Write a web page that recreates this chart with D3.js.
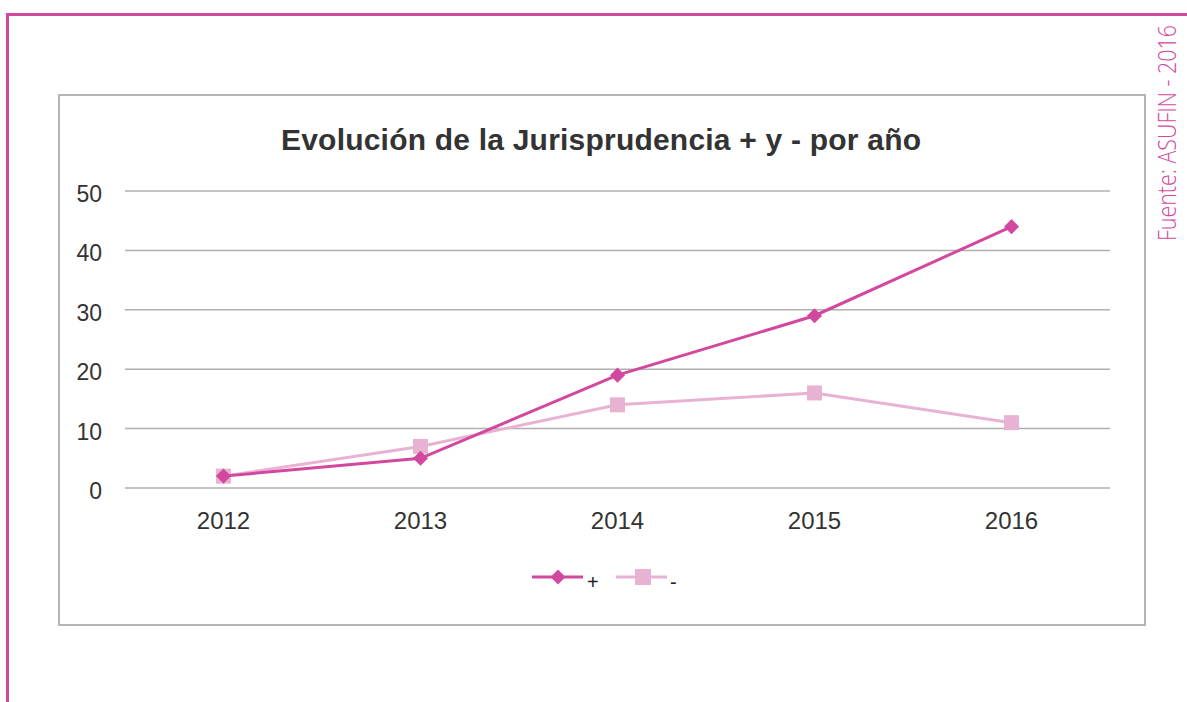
<!DOCTYPE html>
<html>
<head>
<meta charset="utf-8">
<script src="https://cdn.jsdelivr.net/npm/d3@7"></script>
<style>
  body { margin: 0; background: #fff; }
  svg { display: block; font-family: "Liberation Sans", Arial, sans-serif; }
</style>
</head>
<body>
<div id="chart"></div>
<script>
// Data
const years = ["2012", "2013", "2014", "2015", "2016"];
const plus = [2, 5, 19, 29, 44];
const minus = [2, 7, 14, 16, 11];
const yTicks = [0, 10, 20, 30, 40, 50];

const w = 1187, h = 702;
const pinkDark = "#d2489e";
const pinkLight = "#e8b3d3";

const svg = d3.select("#chart").append("svg")
  .attr("width", w)
  .attr("height", h);

// outer pink frame
svg.append("path")
  .attr("d", "M7.5,702 V14.5 H1187")
  .attr("fill", "none")
  .attr("stroke", pinkDark)
  .attr("stroke-width", 3);

// chart box
svg.append("rect")
  .attr("x", 59).attr("y", 95)
  .attr("width", 1086).attr("height", 530)
  .attr("fill", "#fff")
  .attr("stroke", "#b5b5b5")
  .attr("stroke-width", 2);

// source text, rotated
svg.append("text")
  .attr("transform", "translate(1176,241) rotate(-90)")
  .attr("fill", pinkDark)
  .attr("font-family", "'Open Sans', sans-serif")
  .attr("font-weight", 300)
  .attr("font-size", 25)
  .attr("textLength", 216)
  .attr("lengthAdjust", "spacingAndGlyphs")
  .text("Fuente: ASUFIN - 2016");

// title
svg.append("text")
  .attr("x", 601).attr("y", 150)
  .attr("text-anchor", "middle")
  .attr("font-size", 30)
  .attr("font-weight", "bold")
  .attr("fill", "#333")
  .attr("textLength", 640)
  .text("Evolución de la Jurisprudencia + y - por año");

const x = d3.scalePoint().domain(years).range([125, 1110]).padding(0.5);
const y = d3.scaleLinear().domain([0, 50]).range([488, 191]);

// grid
svg.append("g")
  .selectAll("line")
  .data(yTicks)
  .join("line")
  .attr("x1", 125).attr("x2", 1110)
  .attr("y1", d => y(d)).attr("y2", d => y(d))
  .attr("stroke", "#b0b0b0")
  .attr("stroke-width", 1.5);

// y labels
svg.append("g")
  .selectAll("text")
  .data(yTicks)
  .join("text")
  .attr("x", 102)
  .attr("y", d => y(d) + 11)
  .attr("text-anchor", "end")
  .attr("font-size", 23)
  .attr("fill", "#333")
  .text(d => d);

// x labels
svg.append("g")
  .selectAll("text")
  .data(years)
  .join("text")
  .attr("x", d => x(d))
  .attr("y", 529)
  .attr("text-anchor", "middle")
  .attr("font-size", 24)
  .attr("fill", "#333")
  .text(d => d);

const line = d3.line()
  .x((d, i) => x(years[i]))
  .y(d => y(d));

// "-" series (drawn first, underneath)
svg.append("path")
  .datum(minus)
  .attr("d", line)
  .attr("fill", "none")
  .attr("stroke", pinkLight)
  .attr("stroke-width", 3);

svg.append("g")
  .selectAll("rect")
  .data(minus)
  .join("rect")
  .attr("x", (d, i) => x(years[i]) - 7.5)
  .attr("y", d => y(d) - 7.5)
  .attr("width", 15).attr("height", 15)
  .attr("fill", pinkLight);

// "+" series
svg.append("path")
  .datum(plus)
  .attr("d", line)
  .attr("fill", "none")
  .attr("stroke", pinkDark)
  .attr("stroke-width", 3);

const diamond = d3.symbol().type(d3.symbolDiamond2).size(145);
svg.append("g")
  .selectAll("path")
  .data(plus)
  .join("path")
  .attr("transform", (d, i) => `translate(${x(years[i])},${y(d)})`)
  .attr("d", diamond)
  .attr("fill", pinkDark);

// legend
const legend = svg.append("g");
legend.append("line")
  .attr("x1", 532).attr("x2", 583).attr("y1", 577).attr("y2", 577)
  .attr("stroke", pinkDark).attr("stroke-width", 3);
legend.append("path")
  .attr("transform", "translate(558,577)")
  .attr("d", diamond)
  .attr("fill", pinkDark);
legend.append("text")
  .attr("x", 587).attr("y", 589)
  .attr("font-size", 20).attr("fill", "#222")
  .text("+");
legend.append("line")
  .attr("x1", 616).attr("x2", 667).attr("y1", 577).attr("y2", 577)
  .attr("stroke", pinkLight).attr("stroke-width", 3);
legend.append("rect")
  .attr("x", 635).attr("y", 569).attr("width", 16).attr("height", 16)
  .attr("fill", pinkLight);
legend.append("text")
  .attr("x", 670).attr("y", 589)
  .attr("font-size", 20).attr("fill", "#222")
  .text("-");
</script>
</body>
</html>
